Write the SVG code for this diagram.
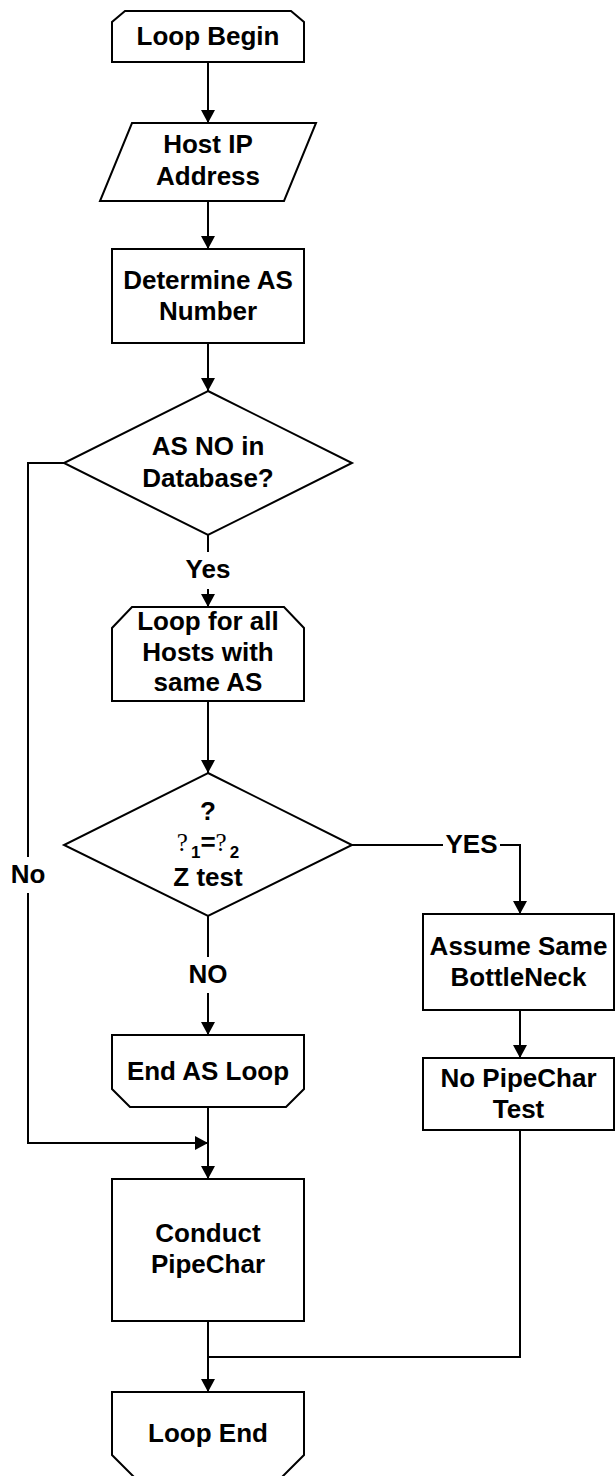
<svg xmlns="http://www.w3.org/2000/svg" width="616" height="1476" viewBox="0 0 616 1476">
<defs>
<style>
.s{fill:#fff;stroke:#000;stroke-width:2;stroke-linejoin:miter}
.c{fill:none;stroke:#000;stroke-width:2}
.t{font-family:"Liberation Sans",Arial,sans-serif;font-weight:bold;font-size:26px;fill:#000;text-anchor:middle}
.q{font-family:"Liberation Serif","Times New Roman",serif;font-weight:normal;font-size:25px}
.sub{font-size:17px}
</style>
<marker id="ah" markerUnits="userSpaceOnUse" markerWidth="14" markerHeight="14" refX="13" refY="7" orient="auto">
<path d="M0,0 L13,7 L0,14 z" fill="#000"/>
</marker>
</defs>
<rect width="616" height="1476" fill="#fff"/>
<g id="connectors">
<line class="c" x1="208" y1="62" x2="208" y2="123" marker-end="url(#ah)"/>
<line class="c" x1="208" y1="201" x2="208" y2="249" marker-end="url(#ah)"/>
<line class="c" x1="208" y1="343" x2="208" y2="391" marker-end="url(#ah)"/>
<line class="c" x1="208" y1="535" x2="208" y2="552"/>
<line class="c" x1="208" y1="589" x2="208" y2="607" marker-end="url(#ah)"/>
<text class="t" x="208" y="578">Yes</text>
<line class="c" x1="208" y1="701" x2="208" y2="773" marker-end="url(#ah)"/>
<line class="c" x1="208" y1="916" x2="208" y2="957"/>
<line class="c" x1="208" y1="993" x2="208" y2="1035" marker-end="url(#ah)"/>
<text class="t" x="208" y="983">NO</text>
<polyline class="c" points="352,845 443,845"/>
<polyline class="c" points="500,845 520,845 520,914" marker-end="url(#ah)"/>
<text class="t" x="471.5" y="853">YES</text>
<line class="c" x1="520" y1="1010" x2="520" y2="1058" marker-end="url(#ah)"/>
<polyline class="c" points="520,1130 520,1357 208,1357"/>
<line class="c" x1="208" y1="1107" x2="208" y2="1179" marker-end="url(#ah)"/>
<polyline class="c" points="64,463 28,463 28,857"/>
<polyline class="c" points="28,893 28,1143 208,1143" marker-end="url(#ah)"/>
<text class="t" x="28" y="883">No</text>
<line class="c" x1="208" y1="1321" x2="208" y2="1392" marker-end="url(#ah)"/>
</g>
<g id="loop-begin">
<path class="s" d="M125,11 L291,11 L304,22 L304,62 L112,62 L112,22 Z"/>
<text class="t" x="208" y="45">Loop Begin</text>
</g>
<g id="host-ip">
<path class="s" d="M132,123 L316,123 L284,201 L100,201 Z"/>
<text class="t" x="208" y="153">Host IP</text>
<text class="t" x="208" y="185">Address</text>
</g>
<g id="determine-as">
<rect class="s" x="112" y="249" width="192" height="94"/>
<text class="t" x="208" y="289">Determine AS</text>
<text class="t" x="208" y="320">Number</text>
</g>
<g id="as-in-db">
<path class="s" d="M208,391 L352,463 L208,535 L64,463 Z"/>
<text class="t" x="208" y="455">AS NO in</text>
<text class="t" x="208" y="487">Database?</text>
</g>
<g id="loop-hosts">
<path class="s" d="M132,607 L284,607 L304,628 L304,701 L112,701 L112,628 Z"/>
<text class="t" x="208" y="630">Loop for all</text>
<text class="t" x="208" y="661">Hosts with</text>
<text class="t" x="208" y="691">same AS</text>
</g>
<g id="z-test">
<path class="s" d="M208,773 L352,845 L208,916 L64,845 Z"/>
<text class="t" x="208" y="820">?</text>
<text class="t" x="208" y="851"><tspan class="q">?</tspan><tspan class="sub" dx="3" dy="7">1</tspan><tspan dy="-7">=</tspan><tspan class="q">?</tspan><tspan class="sub" dx="3" dy="7">2</tspan></text>
<text class="t" x="208" y="886">Z test</text>
</g>
<g id="end-as-loop">
<path class="s" d="M112,1035 L304,1035 L304,1089 L286,1107 L130,1107 L112,1089 Z"/>
<text class="t" x="208" y="1080">End AS Loop</text>
</g>
<g id="conduct-pipechar">
<rect class="s" x="112" y="1179" width="192" height="142"/>
<text class="t" x="208" y="1242">Conduct</text>
<text class="t" x="208" y="1273">PipeChar</text>
</g>
<g id="assume-same">
<rect class="s" x="423" y="914" width="191" height="96"/>
<text class="t" x="518.5" y="955">Assume Same</text>
<text class="t" x="518.5" y="986">BottleNeck</text>
</g>
<g id="no-pipechar">
<rect class="s" x="423" y="1058" width="191" height="72"/>
<text class="t" x="518.5" y="1087">No PipeChar</text>
<text class="t" x="518.5" y="1118">Test</text>
</g>
<g id="loop-end">
<path class="s" d="M112,1392 L304,1392 L304,1455 L282,1477 L134,1477 L112,1455 Z"/>
<text class="t" x="208" y="1442">Loop End</text>
</g>
</svg>
